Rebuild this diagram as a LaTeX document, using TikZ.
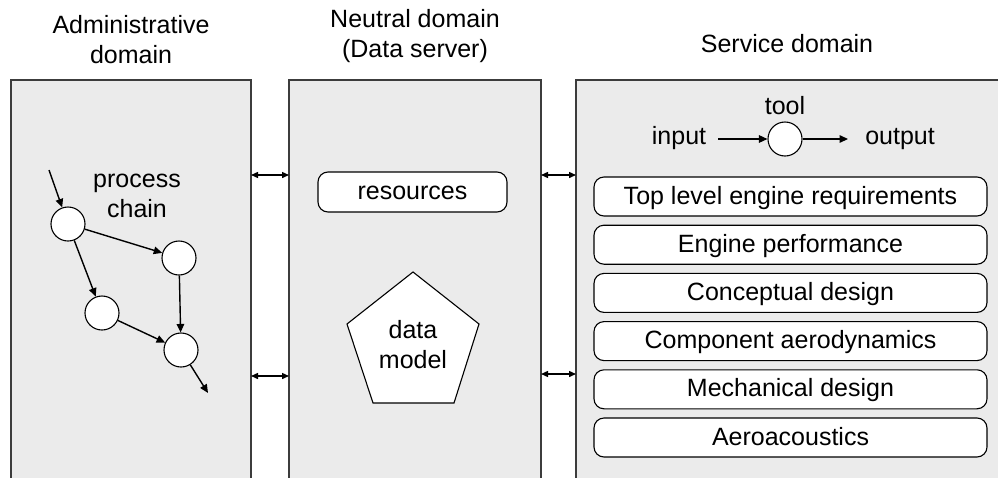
\documentclass[tikz,border=0pt]{standalone}
\usepackage{fontspec}
\setmainfont{Liberation Sans}
\usetikzlibrary{arrows.meta,shapes.geometric}
\definecolor{panelgray}{RGB}{235,235,235}
\definecolor{edgegray}{RGB}{60,60,60}
\begin{document}
\begin{tikzpicture}[x=1pt,y=-1pt,
  every node/.style={font=\fontsize{25}{30}\selectfont},
  panelfill/.style={fill=panelgray},
  paneledge/.style={draw=edgegray,line width=1.5pt},
  hdr/.style={align=center,inner sep=0pt},
  txt/.style={inner sep=0pt},
  shapeline/.style={draw=black,line width=1.1pt,fill=white},
  stepnode/.style={circle,shapeline,minimum size=34pt,inner sep=0pt},
  svcbox/.style={shapeline,rounded corners=10pt,
     minimum width=393pt,minimum height=39pt,text height=19pt,text depth=4pt,inner sep=0pt},
  arr/.style={line width=1.4pt,-{Triangle[length=8.5pt,width=7.5pt]}},
  darr/.style={line width=1.4pt,{Triangle[length=7pt,width=6pt]}-{Triangle[length=7pt,width=6pt]}},
]
\useasboundingbox (0,0) rectangle (998,477);
% panels
\fill[panelfill] (11,80) rectangle (251,478);
\draw[paneledge] (11,478) -- (11,80) -- (251,80) -- (251,478);
\fill[panelfill] (289,80) rectangle (541,478);
\draw[paneledge] (289,478) -- (289,80) -- (541,80) -- (541,478);
\fill[panelfill] (576,80) rectangle (999,478);
\draw[paneledge] (576,478) -- (576,80) -- (999,80);
% headers
\node[hdr] (hadm) at (131,40) {Administrative\\domain};
\node[hdr] (hneu) at (415,36) {Neutral domain\\(Data server)};
\node[hdr] (hsvc) at (787,44) {Service domain};
% panel links
\coordinate (l1) at (251,175); \coordinate (m1) at (289,175);
\coordinate (l2) at (251,376); \coordinate (m2) at (289,376);
\coordinate (m3) at (541,175); \coordinate (r3) at (576,175);
\coordinate (m4) at (541,374); \coordinate (r4) at (576,374);
\draw[darr] (l1) -- (m1);
\draw[darr] (l2) -- (m2);
\draw[darr] (m3) -- (r3);
\draw[darr] (m4) -- (r4);
% administrative domain
\node[hdr] (pc) at (137,196) {process\\chain};
\node[stepnode] (c1) at (68,224) {};
\node[stepnode] (c2) at (179,258) {};
\node[stepnode] (c3) at (102,313) {};
\node[stepnode] (c4) at (181,350) {};
\coordinate (cin) at (49,170);
\coordinate (cout) at (208,393);
\draw[arr] (cin) -- (c1);
\draw[arr] (c1) -- (c2);
\draw[arr] (c1) -- (c3);
\draw[arr] (c2) -- (c4);
\draw[arr] (c3) -- (c4);
\draw[arr] (c4) -- (cout);
% neutral domain
\node[svcbox,minimum width=189pt,minimum height=40pt] (res) at (412.5,192) {resources};
\draw[shapeline,line join=miter] (413,272) -- (479,324) -- (454,403) -- (373,403) -- (347,324) -- cycle;
\node[hdr] (dm) at (413,345) {data\\model};
% service domain
\node[stepnode] (tool) at (785,139) {};
\node[txt,anchor=base] (tl) at (785,114) {tool};
\node[txt,anchor=base,inner xsep=12pt] (in) at (679,144) {input};
\node[txt,anchor=base,inner xsep=17pt] (out) at (900,144) {output};
\draw[arr] (in.east |- tool.center) -- (tool.west);
\draw[arr] (tool.east) -- (out.west |- tool.center);
\node[svcbox] (s1) at (790.5,196.5) {Top level engine requirements};
\node[svcbox] (s2) at (790.5,244.7) {Engine performance};
\node[svcbox] (s3) at (790.5,292.9) {Conceptual design};
\node[svcbox] (s4) at (790.5,341.1) {Component aerodynamics};
\node[svcbox] (s5) at (790.5,389.3) {Mechanical design};
\node[svcbox] (s6) at (790.5,437.5) {Aeroacoustics};
\end{tikzpicture}
\end{document}
